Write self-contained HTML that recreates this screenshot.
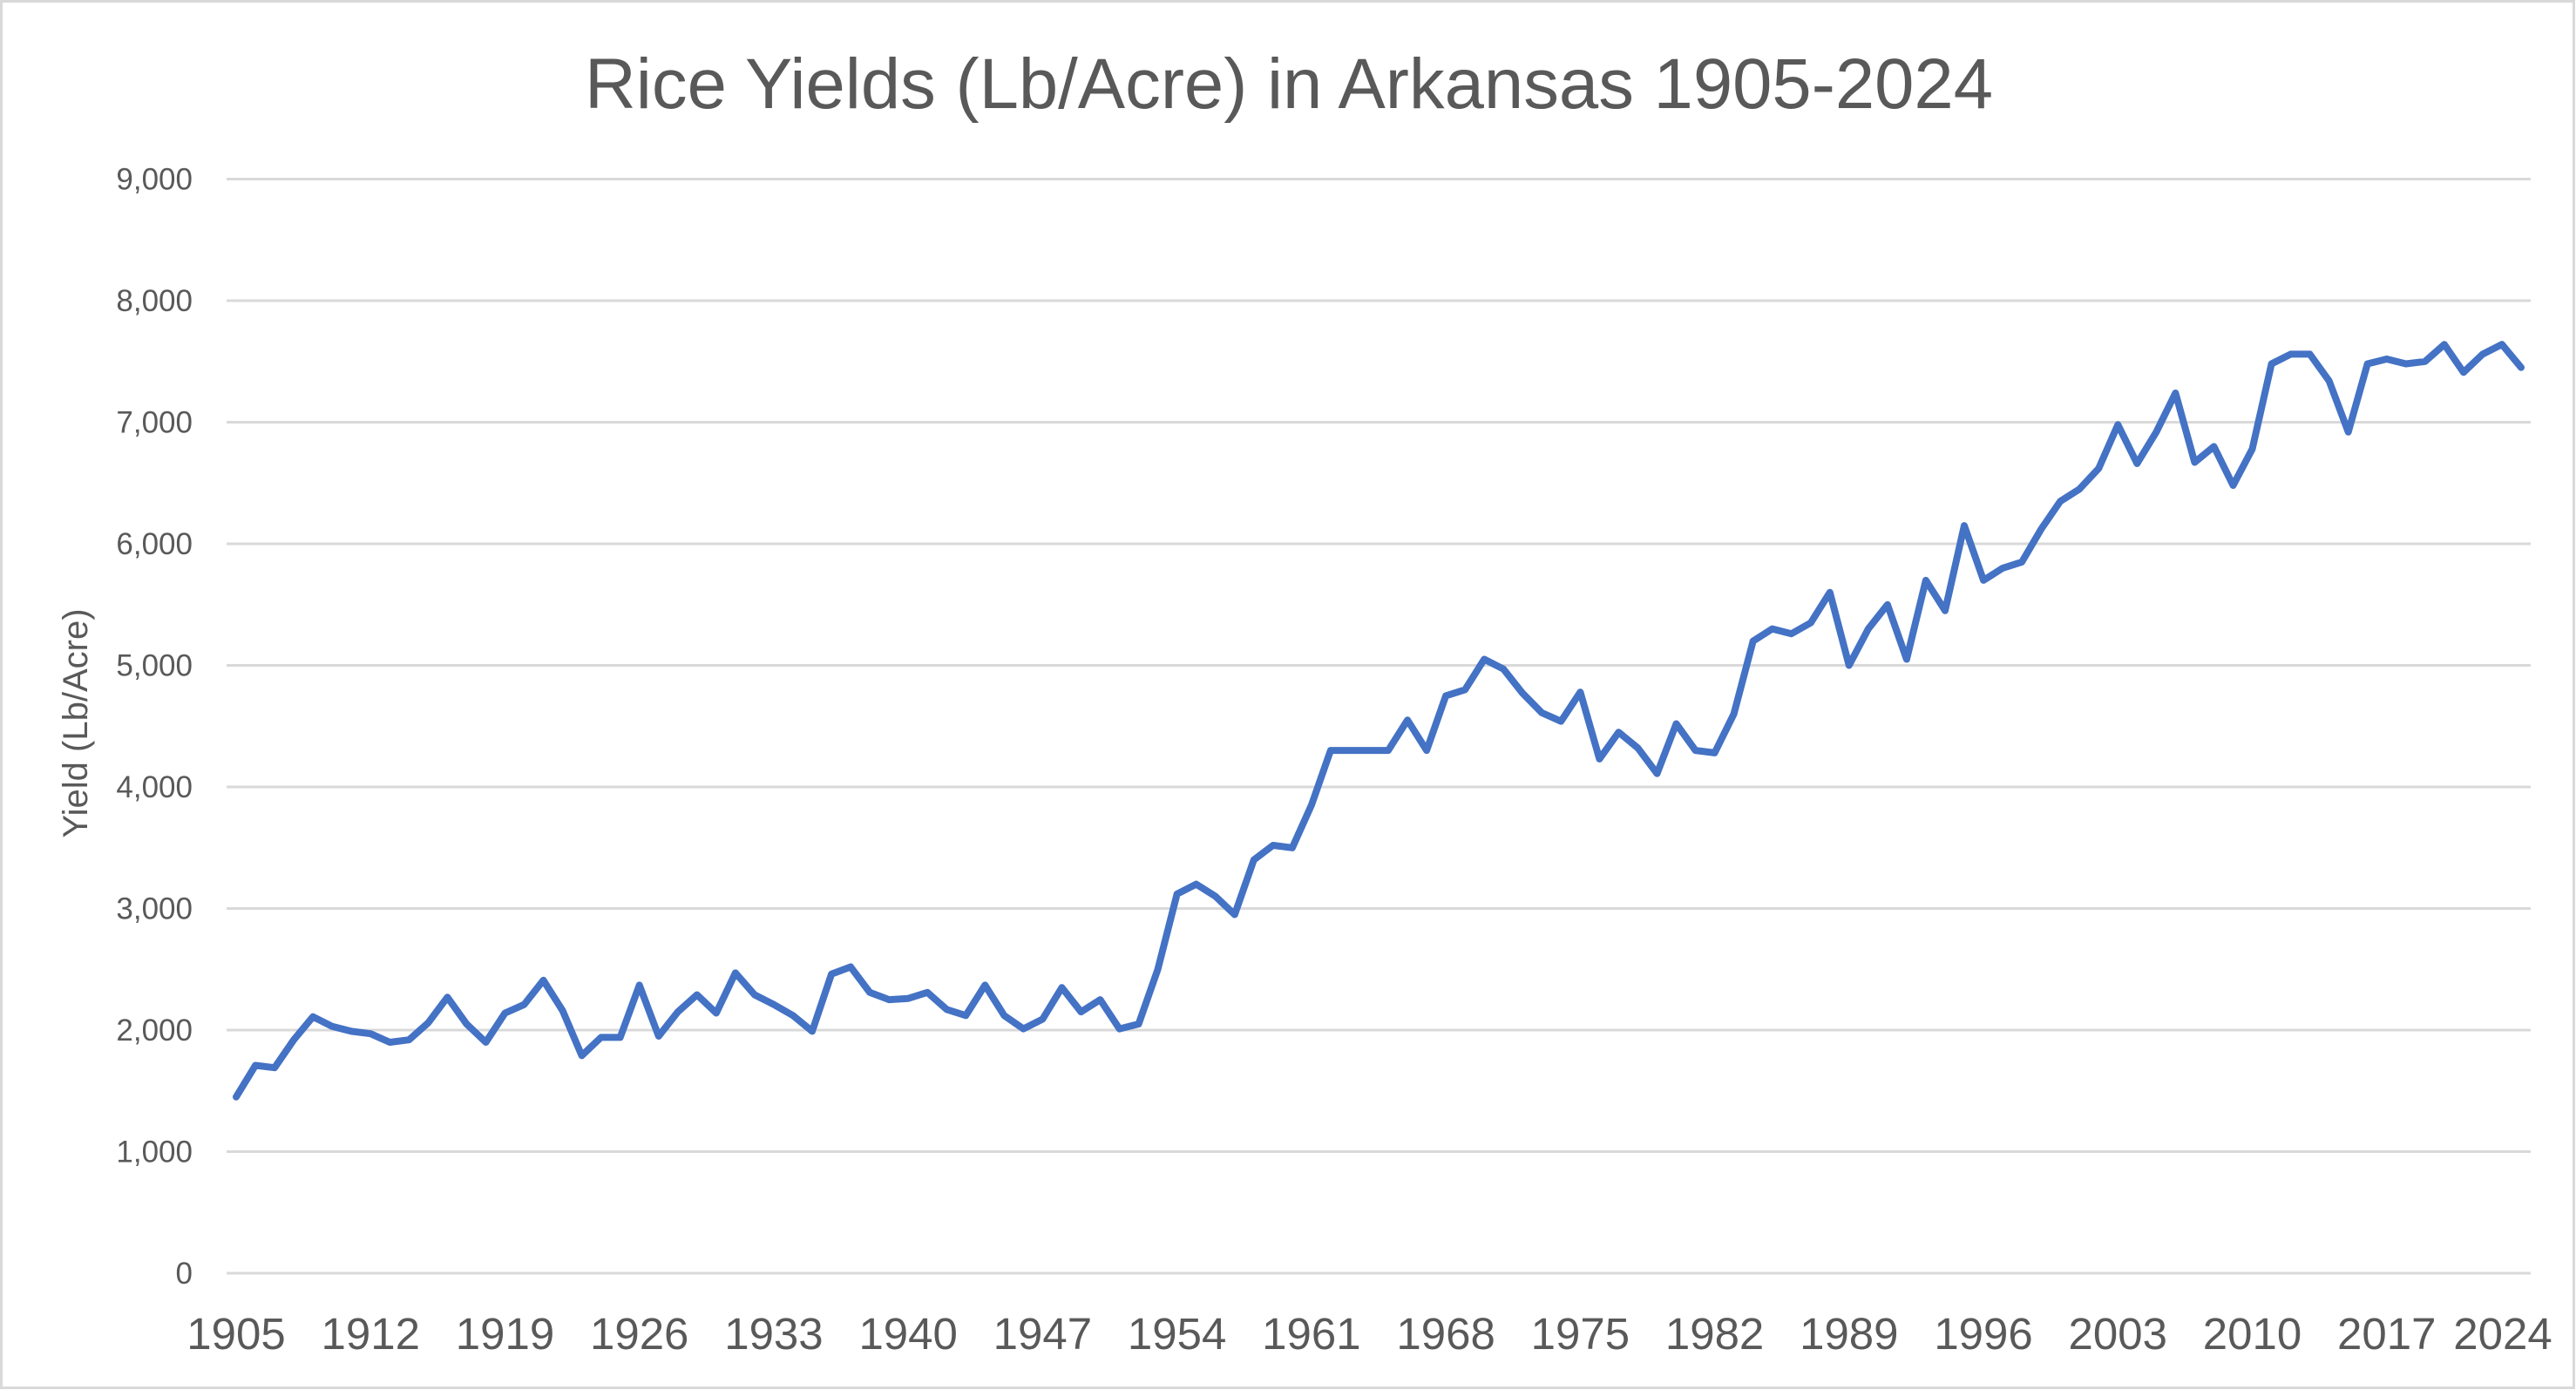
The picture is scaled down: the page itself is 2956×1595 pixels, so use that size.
<!DOCTYPE html>
<html><head><meta charset="utf-8"><style>
html,body{margin:0;padding:0;background:#fff}
svg{display:block}
text{font-family:"Liberation Sans",sans-serif;fill:#595959}
</style></head><body>
<svg id="c" width="2956" height="1595" xmlns="http://www.w3.org/2000/svg">
<rect x="1.5" y="1.5" width="2952" height="1591" fill="#fff" stroke="#d9d9d9" stroke-width="3"/>
<text x="671" y="124" font-size="82" textLength="1616" lengthAdjust="spacingAndGlyphs">Rice Yields (Lb/Acre) in Arkansas 1905-2024</text>
<text transform="translate(100,830) rotate(-90)" font-size="40" text-anchor="middle">Yield (Lb/Acre)</text>
<g id="g"></g>
</svg>
<script>
var s=document.getElementById('g'),ns="http://www.w3.org/2000/svg";
var L=260,R=2904,Y0=1461,DY=139.5;
function el(t,a,txt){var e=document.createElementNS(ns,t);for(var k in a)e.setAttribute(k,a[k]);if(txt)e.textContent=txt;s.appendChild(e);return e;}
for(var i=0;i<=9;i++){var y=Y0-i*DY;
el('line',{x1:L,x2:R,y1:y,y2:y,stroke:'#d9d9d9','stroke-width':3});
el('text',{x:221,y:y+12,'font-size':35,'text-anchor':'end'},i==0?'0':(i+',000'));}
var d=[1450,1710,1690,1920,2110,2030,1990,1970,1900,1920,2060,2270,2050,1900,2140,2210,2410,2160,1790,1940,1940,2370,1950,2150,2290,2140,2470,2290,2210,2120,1990,2460,2520,2310,2250,2260,2310,2170,2120,2370,2120,2010,2090,2350,2150,2250,2010,2050,2300,2500,3120,3200,3100,2950,3400,3520,3500,3850,4300,4300,4300,4300,4550,4300,4750,4800,5050,4970,4770,4610,4540,4780,4230,4450,4320,4110,4520,4300,4280,4600,5200,5300,5260,5350,5600,5000,5300,5500,5050,5700,5450,6150,5700,5800,5850,6120,6350,6450,6620,6980,6660,6920,7240,6670,6800,6480,6780,7480,7560,7560,7340,6920,7480,7520,7480,7500,7640,7410,7560,7640,7450];
var n=120,w=(R-L)/n;
while(d.length>n)d.splice(48,1);
var p=d.map(function(v,i){return (L+w*(i+0.5)).toFixed(1)+','+(Y0-v/1000*DY).toFixed(1)}).join(' ');
el('polyline',{points:p,fill:'none',stroke:'#4472C4','stroke-width':8,'stroke-linejoin':'round','stroke-linecap':'round'});
for(var i=0;i<119;i+=7){var x=L+w*(i+0.5);
el('text',{x:x,y:1548,'font-size':51,'text-anchor':'middle'},String(1905+i));}
el('text',{x:2872,y:1548,'font-size':51,'text-anchor':'middle'},'2024');
</script>
</body></html>
